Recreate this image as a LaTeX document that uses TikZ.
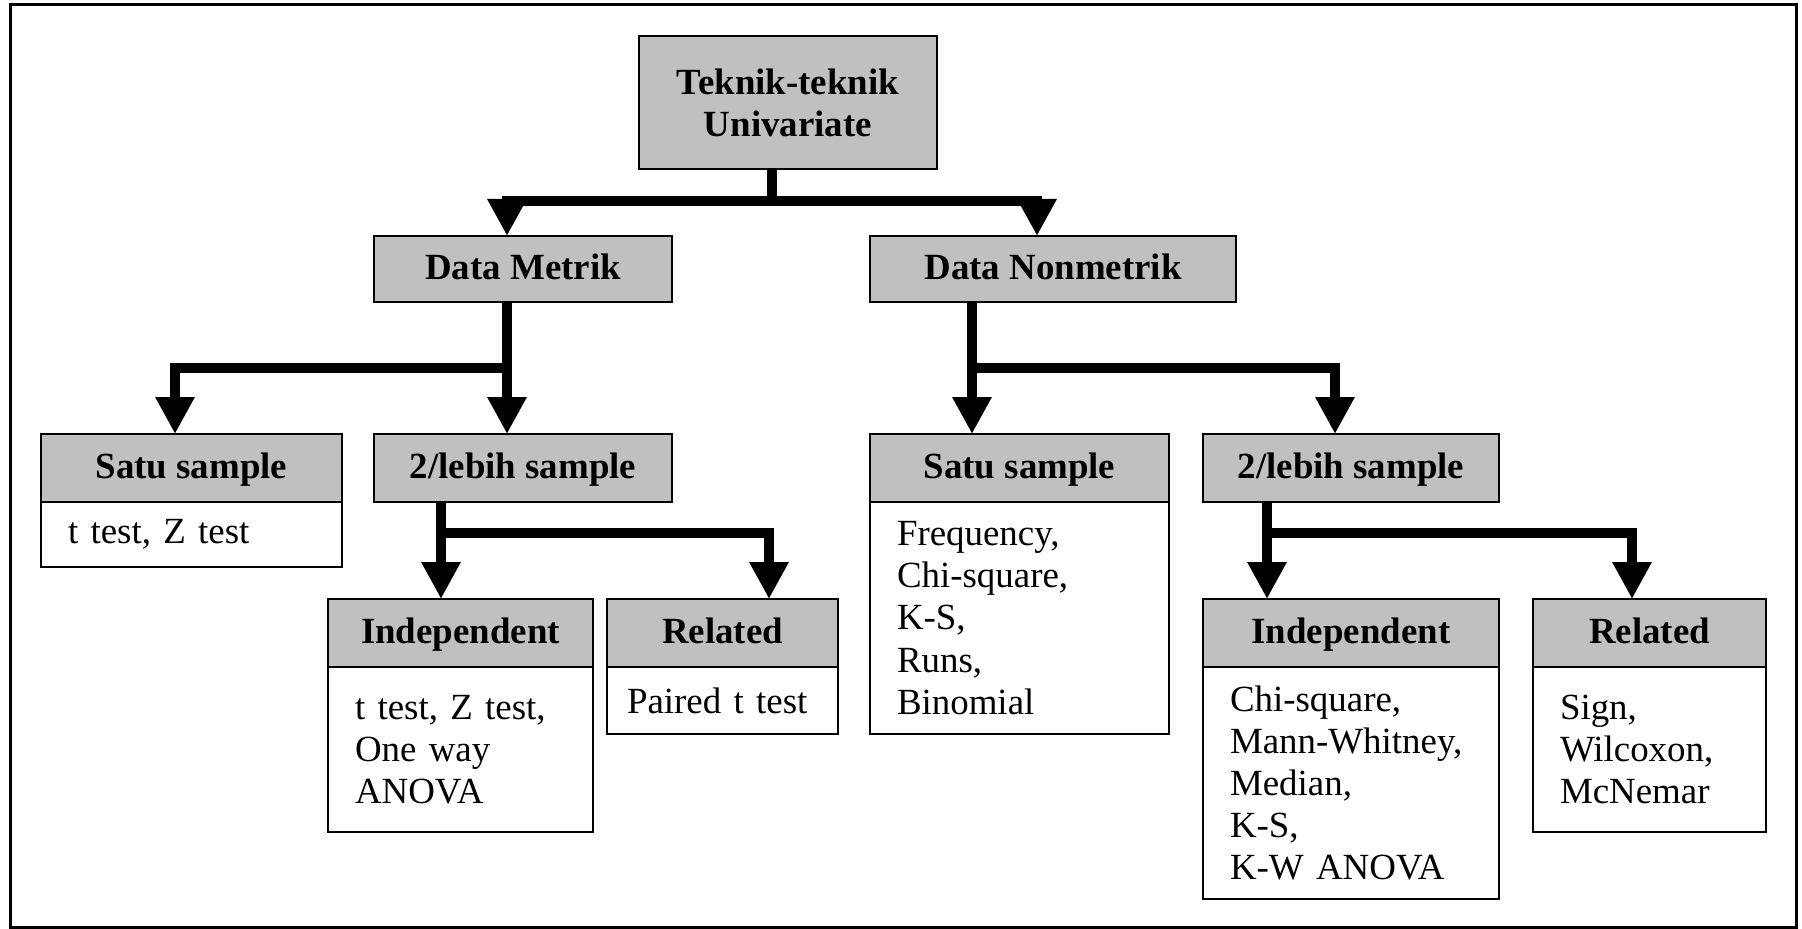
\documentclass[tikz,border=0pt]{standalone}
\usepackage{fontspec}
\setmainfont{Liberation Serif}
\usetikzlibrary{arrows.meta,positioning}
\definecolor{boxgray}{RGB}{192,192,192}

\begin{document}
\begin{tikzpicture}[x=0.1mm, y=-0.1mm,
	every node/.style={font=\fontsize{10.5}{12}\selectfont, outer sep=0pt, line width=0.2mm},
	root/.style={draw, fill=boxgray, font=\fontsize{10.5}{12}\selectfont\bfseries, inner sep=0pt, align=center},
	head/.style={root, minimum width=#1, minimum height=6.8mm, text height=2ex, text depth=0.7ex},
	body/.style={draw, fill=white, align=left, inner xsep=2.7mm, inner ysep=0pt, text width=#1},
	link/.style={line width=1mm},
	arrow/.style={link, -{Triangle[length=3.7mm, width=3.7mm]}}]
	\useasboundingbox (0,0) rectangle (1802,929);
	\draw[line width=0.3mm] (10,5) rectangle (1796,927);

	\node[root, minimum width=29.8mm, minimum height=13.3mm] (top) at (788,102.5) {Teknik-teknik\\Univariate};
	\node[head=29.8mm, minimum height=6.6mm] (metrik) at (523,269) {Data Metrik};
	\node[head=36.6mm, minimum height=6.6mm] (nonmetrik) at (1053,269) {Data Nonmetrik};

	\node[head=30.1mm] (satuA) at (191.5,468) {Satu sample};
	\node[body=24.7mm, minimum height=6.5mm, below=0pt of satuA] (satuAb) {t test, Z test};
	\node[head=29.8mm] (duaA) at (523,468) {2/lebih sample};
	\node[head=26.5mm] (indA) at (460.5,633) {Independent};
	\node[body=21.1mm, minimum height=16.5mm, below=0pt of indA] (indAb) {t test, Z test,\\One way\\ANOVA};
	\node[head=23.1mm] (relA) at (722.5,633) {Related};
	\node[body=19.1mm, inner xsep=2mm, minimum height=6.7mm, below=0pt of relA] (relAb) {Paired t test};

	\node[head=29.9mm] (satuB) at (1019.5,468) {Satu sample};
	\node[body=24.5mm, minimum height=23.2mm, below=0pt of satuB] (satuBb) {Frequency,\\Chi-square,\\K-S,\\Runs,\\Binomial};
	\node[head=29.6mm] (duaB) at (1351,468) {2/lebih sample};
	\node[head=29.6mm] (indB) at (1351,633) {Independent};
	\node[body=24.2mm, minimum height=23.2mm, below=0pt of indB] (indBb) {Chi-square,\\Mann-Whitney,\\Median,\\K-S,\\K-W ANOVA};
	\node[head=23.3mm] (relB) at (1649.5,633) {Related};
	\node[body=17.9mm, minimum height=16.5mm, below=0pt of relB] (relBb) {Sign,\\Wilcoxon,\\McNemar};

	\coordinate (j0) at (772,201);
	\coordinate (j1) at (507,368);
	\coordinate (j2) at (972,368);
	\coordinate (j3) at (441,533);
	\coordinate (j4) at (1267,533);

	\draw[link] (top.south -| j0) -- (j0);
	\draw[arrow] (j0) -| ([xshift=-1.6mm]metrik.north);
	\draw[arrow] (j0) -| ([xshift=-1.6mm]nonmetrik.north);
	\draw[arrow] (metrik.south -| j1) -- (duaA.north -| j1);
	\draw[arrow] (j1) -| ([xshift=-1.65mm]satuA.north);
	\draw[arrow] (nonmetrik.south -| j2) -- (satuB.north -| j2);
	\draw[arrow] (j2) -| ([xshift=-1.6mm]duaB.north);
	\draw[arrow] (duaA.south -| j3) -- (indA.north -| j3);
	\draw[arrow] (j3) -| ([xshift=4.65mm]relA.north);
	\draw[arrow] (duaB.south -| j4) -- (indB.north -| j4);
	\draw[arrow] (j4) -| ([xshift=-1.75mm]relB.north);
\end{tikzpicture}
\end{document}
